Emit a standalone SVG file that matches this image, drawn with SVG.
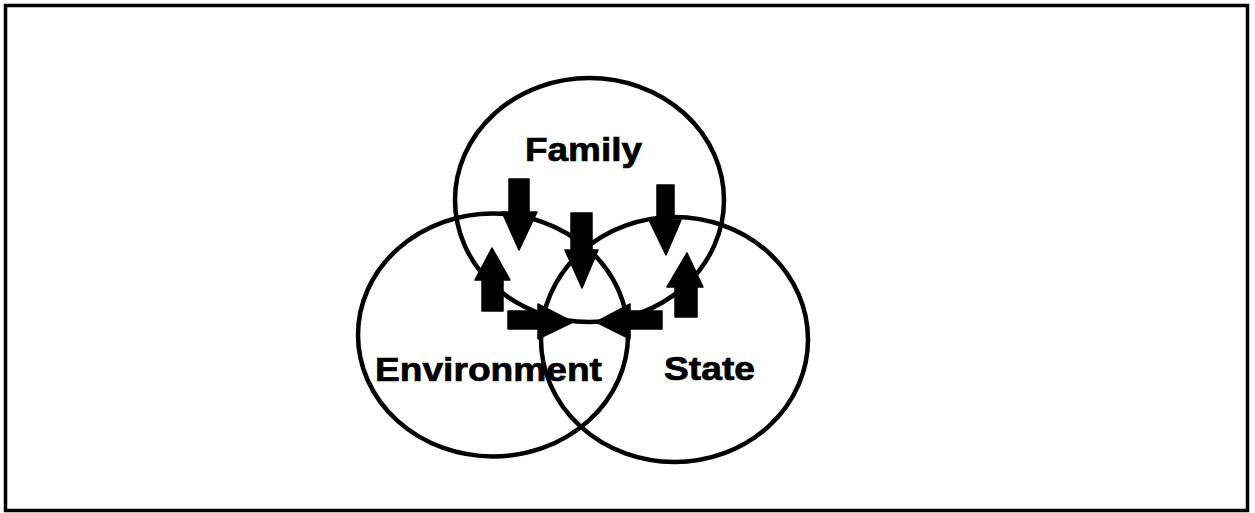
<svg xmlns="http://www.w3.org/2000/svg" width="1255" height="513" viewBox="0 0 1255 513">
  <style>
    .frame { fill: #ffffff; stroke: #000000; stroke-width: 3.5; }
    .circle { fill: none; stroke: #000000; stroke-width: 4.5; }
    .label { font-family: "Liberation Sans", Arial, sans-serif; font-weight: bold; font-size: 34px; fill: #000000; stroke: #000000; stroke-width: 0.7; }
    .arrow { fill: #000000; stroke: #000000; stroke-width: 1.5; stroke-linejoin: round; }
  </style>
  <rect x="0" y="0" width="1255" height="513" fill="#ffffff"/>
  <rect class="frame" x="5.5" y="5.5" width="1242" height="505"/>
  <g id="family">
    <ellipse class="circle" cx="589.5" cy="200" rx="134.5" ry="122"/>
    <text class="label" x="525" y="161" textLength="117" lengthAdjust="spacingAndGlyphs">Family</text>
  </g>
  <g id="environment">
    <ellipse class="circle" cx="493" cy="335" rx="135" ry="121.5"/>
    <text class="label" x="375" y="381" textLength="227" lengthAdjust="spacingAndGlyphs">Environment</text>
  </g>
  <g id="state">
    <ellipse class="circle" cx="674.5" cy="339.5" rx="133.5" ry="122.5"/>
    <text class="label" x="664" y="380" textLength="91" lengthAdjust="spacingAndGlyphs">State</text>
  </g>
  <g id="connectors">
    <polygon class="arrow" points="509,179 529,179 529,212 537,212 519,250 502,212 509,212"/>
    <polygon class="arrow" points="571,213 592,213 592,250 598,250 582,288 565,250 571,250"/>
    <polygon class="arrow" points="657,185 674,185 674,220 681,220 666,255 649,220 657,220"/>
    <polygon class="arrow" points="482,311 503,311 503,280 510,280 492,248 475,280 482,280"/>
    <polygon class="arrow" points="675,317 697,317 697,287 703,287 687,253 667,287 675,287"/>
    <polygon class="arrow" points="508,311 538,311 538,304 573,322 538,339 538,329 508,329"/>
    <polygon class="arrow" points="662,311 630,311 630,304 596,322 630,339 630,329 662,329"/>
  </g>
</svg>
